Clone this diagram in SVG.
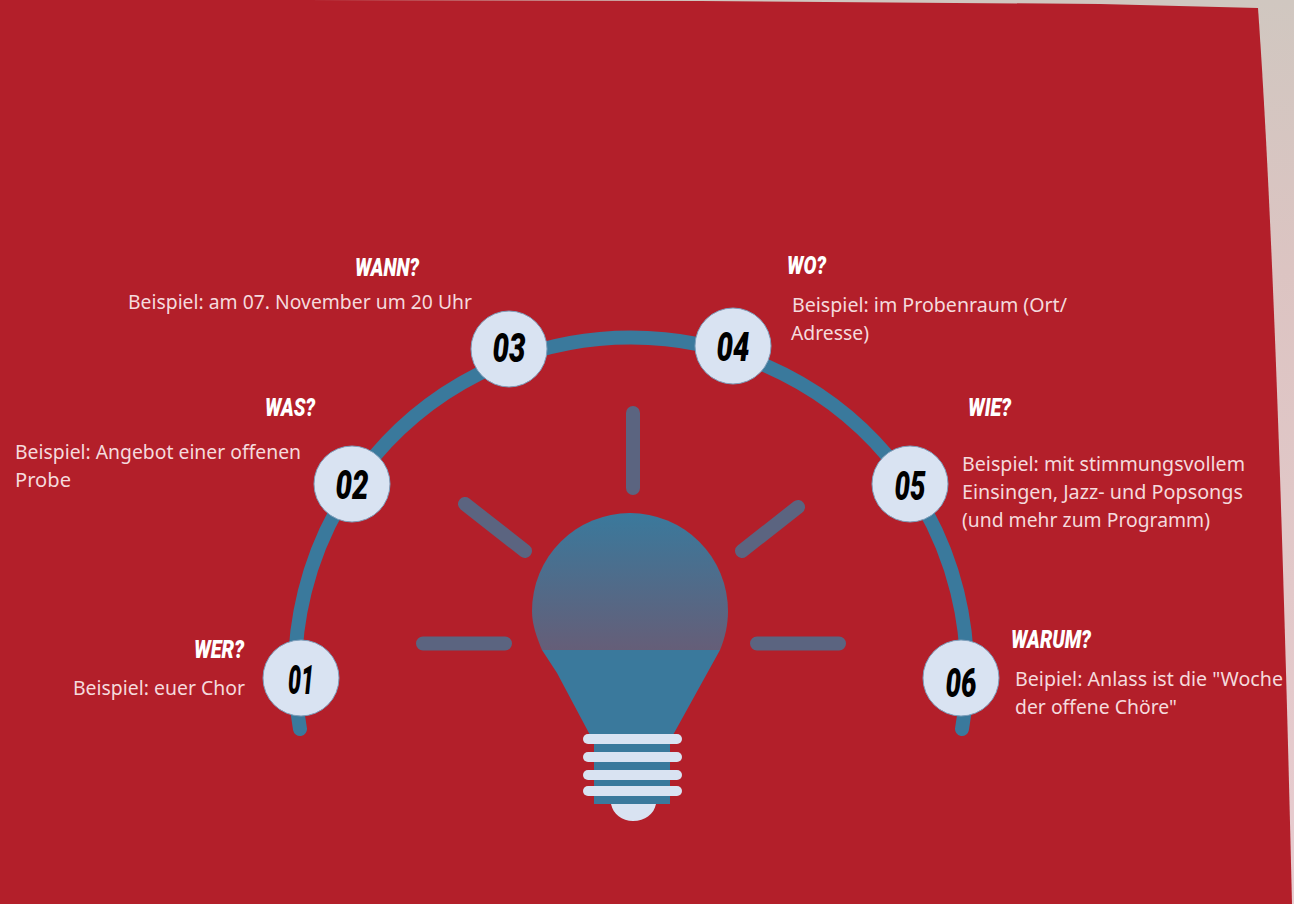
<svg xmlns="http://www.w3.org/2000/svg" width="1294" height="904" viewBox="0 0 1294 904">
<style>
.body{font-family:"Noto Sans","Liberation Sans",sans-serif;font-size:19px;fill:#f5dadd}
.head{font-family:"Roboto","Liberation Sans",sans-serif;font-size:25px;font-weight:900;font-style:italic;fill:#fff}
.num{font-family:"Roboto","Liberation Sans",sans-serif;font-size:40px;font-weight:900;font-style:italic;fill:#000;text-anchor:middle}
.disc{fill:#d9e3f2;stroke:#7f9fbc;stroke-width:1}
.ray{fill:none;stroke:#5b6480;stroke-width:14;stroke-linecap:round}
.band{fill:#d9e3f2}
</style>
<defs>
<linearGradient id="paper" x1="0" y1="0" x2="0" y2="1"><stop offset="0" stop-color="#d0c7c0"/><stop offset="0.3" stop-color="#dcc4c2"/><stop offset="1" stop-color="#e8ccd0"/></linearGradient>
<linearGradient id="glass" gradientUnits="userSpaceOnUse" x1="0" y1="513" x2="0" y2="650"><stop offset="0" stop-color="#3a799c"/><stop offset="1" stop-color="#655e78"/></linearGradient>
</defs>
<rect width="1294" height="904" fill="url(#paper)"/>
<path d="M0 0L300 0L700 1L1100 4L1258 8C1268 150 1280 400 1292 904H0Z" fill="#b31f2a"/>
<g id="connectors">
<path d="M300 729A336 334 0 1 1 962 729" fill="none" stroke="#3a799c" stroke-width="14" stroke-linecap="round"/>
</g>
<g id="bulb">
<path class="ray" d="M633 413V488M465 504L525 551M798 507L742 551M423 643.500H505M757 643.500H839"/>
<path d="M542 650C537 638 532 625 532 611A98 98 0 0 1 728 611C728 625 725 638 720 650Z" fill="url(#glass)"/>
<path d="M542 650H720L673 735H590L557 673Z" fill="#3a799c"/>
<rect x="594" y="733" width="76" height="71" fill="#3a799c"/>
<path d="M611 804H656C654 814 645 821 633 821C622 821 613 814 611 804Z" fill="#d9e3f2"/>
<rect class="band" x="583" y="734" width="99" height="10" rx="5"/>
<rect class="band" x="583" y="752" width="99" height="10" rx="5"/>
<rect class="band" x="583" y="770" width="99" height="10" rx="5"/>
<rect class="band" x="583" y="786" width="99" height="10" rx="5"/>
</g>
<g id="node-01">
<circle class="disc" cx="301" cy="678" r="38"/>
<text class="num" x="301" y="694" textLength="26" lengthAdjust="spacingAndGlyphs">01</text>
<text class="head" x="194" y="658" textLength="50" lengthAdjust="spacingAndGlyphs">WER?</text>
<text class="body" x="73" y="695" textLength="172" lengthAdjust="spacingAndGlyphs">Beispiel: euer Chor</text>
</g>
<g id="node-02">
<circle class="disc" cx="352" cy="484" r="38"/>
<text class="num" x="352" y="499" textLength="33" lengthAdjust="spacingAndGlyphs">02</text>
<text class="head" x="265" y="416" textLength="50" lengthAdjust="spacingAndGlyphs">WAS?</text>
<text class="body" x="15" y="459" textLength="286" lengthAdjust="spacingAndGlyphs">Beispiel: Angebot einer offenen</text>
<text class="body" x="15" y="487" textLength="56" lengthAdjust="spacingAndGlyphs">Probe</text>
</g>
<g id="node-03">
<circle class="disc" cx="509" cy="349" r="38"/>
<text class="num" x="509" y="362" textLength="33" lengthAdjust="spacingAndGlyphs">03</text>
<text class="head" x="355" y="276" textLength="64" lengthAdjust="spacingAndGlyphs">WANN?</text>
<text class="body" x="128" y="308.500" textLength="344" lengthAdjust="spacingAndGlyphs">Beispiel: am 07. November um 20 Uhr</text>
</g>
<g id="node-04">
<circle class="disc" cx="733" cy="346" r="38"/>
<text class="num" x="733" y="361" textLength="33" lengthAdjust="spacingAndGlyphs">04</text>
<text class="head" x="787" y="274" textLength="39" lengthAdjust="spacingAndGlyphs">WO?</text>
<text class="body" x="792" y="312" textLength="275" lengthAdjust="spacingAndGlyphs">Beispiel: im Probenraum (Ort/</text>
<text class="body" x="791" y="340" textLength="78" lengthAdjust="spacingAndGlyphs">Adresse)</text>
</g>
<g id="node-05">
<circle class="disc" cx="910" cy="484" r="38"/>
<text class="num" x="910" y="500" textLength="31" lengthAdjust="spacingAndGlyphs">05</text>
<text class="head" x="968" y="416" textLength="43" lengthAdjust="spacingAndGlyphs">WIE?</text>
<text class="body" x="962" y="471" textLength="283" lengthAdjust="spacingAndGlyphs">Beispiel: mit stimmungsvollem</text>
<text class="body" x="962" y="499" textLength="281" lengthAdjust="spacingAndGlyphs">Einsingen, Jazz- und Popsongs</text>
<text class="body" x="962" y="527" textLength="248" lengthAdjust="spacingAndGlyphs">(und mehr zum Programm)</text>
</g>
<g id="node-06">
<circle class="disc" cx="961" cy="678" r="38"/>
<text class="num" x="961" y="697" textLength="31" lengthAdjust="spacingAndGlyphs">06</text>
<text class="head" x="1011" y="648" textLength="80" lengthAdjust="spacingAndGlyphs">WARUM?</text>
<text class="body" x="1015" y="686" textLength="268" lengthAdjust="spacingAndGlyphs">Beipiel: Anlass ist die "Woche</text>
<text class="body" x="1015" y="714" textLength="162" lengthAdjust="spacingAndGlyphs">der offene Chöre"</text>
</g>
</svg>
